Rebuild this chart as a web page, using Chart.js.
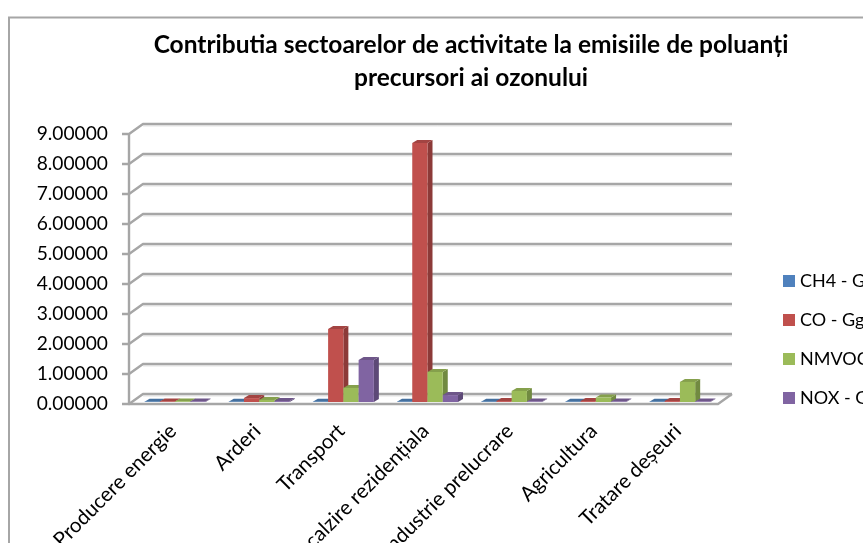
<!DOCTYPE html>
<html>
<head>
<meta charset="utf-8">
<style>
html,body{margin:0;padding:0;background:#fff;overflow:hidden}
canvas{display:block;filter:blur(0.35px)}
</style>
<script src="https://cdn.jsdelivr.net/npm/chart.js@4"></script>
</head>
<body>
<canvas id="c" width="863" height="543"></canvas>
<script>
const categories = ["Producere energie","Arderi","Transport","Încalzire rezidențiala","Industrie prelucrare","Agricultura","Tratare deșeuri"];
const seriesNames = ["CH4 - Gg","CO - Gg","NMVOC - Gg","NOX - Gg"];
const ch4 = [0.01,0.01,0.01,0.01,0.01,0.01,0.01];
const co = [0.02,0.13,2.43,8.63,0.03,0.03,0.03];
const nmvoc = [0.02,0.07,0.47,1.00,0.37,0.15,0.67];
const nox = [0.02,0.03,1.40,0.23,0.02,0.02,0.02];
const frontColors = ["#4F81BD","#C0504D","#9BBB59","#8064A2"];
const sideColors = ["#3A5F8C","#8C3A38","#718A41","#5D4977"];
const topColors = ["#44709F","#A34442","#85A04C","#6E5689"];
const titleLines = ["Contributia sectoarelor de activitate la emisiile de poluanți","precursori ai ozonului"];
const yTicksStep = 1;

const GRAY = "#A6A6A6";
const DEPTH = {dx: 5, dy: 3};
const WALL = {dx: 14, dy: 10};
const BAR_SHIFT = {x: 4, y: -2};

const frame3d = {
  id: "frame3d",
  afterLayout(chart) {
    const t = chart.titleBlock;
    t.left = 0; t.right = 942; t.width = 942;
    const l = chart.legend;
    l.left = 766; l.right = 1000; l.top = 251; l.bottom = 520;
  },
  beforeDraw(chart) {
    const {ctx, chartArea: a, scales: {y}} = chart;
    ctx.save();
    // outer chart frame (left and top only are inside the crop)
    ctx.strokeStyle = "#A6A6A6"; ctx.lineWidth = 2;
    ctx.beginPath(); ctx.moveTo(9, 543); ctx.lineTo(9, 17.5); ctx.lineTo(863, 17.5); ctx.stroke();
    // soft shadow under each grid line
    const ticks = y.ticks.map(t => y.getPixelForValue(t.value));
    ctx.strokeStyle = "#E4E4E4"; ctx.lineWidth = 1;
    ticks.forEach(py => {
      ctx.beginPath(); ctx.moveTo(a.left + WALL.dx, py - WALL.dy + 2); ctx.lineTo(a.right + WALL.dx, py - WALL.dy + 2); ctx.stroke();
    });
    ctx.strokeStyle = GRAY; ctx.lineWidth = 2.4; ctx.lineJoin = "round";
    ticks.forEach(py => {
      ctx.beginPath();
      ctx.moveTo(a.left - 7, py);
      ctx.lineTo(a.left, py);
      ctx.lineTo(a.left + WALL.dx, py - WALL.dy);
      ctx.lineTo(a.right + WALL.dx, py - WALL.dy);
      ctx.stroke();
    });
    // value axis and floor
    ctx.beginPath();
    ctx.moveTo(a.left, a.top);
    ctx.lineTo(a.left, a.bottom);
    ctx.lineTo(a.right, a.bottom);
    ctx.lineTo(a.right + WALL.dx, a.bottom - WALL.dy);
    ctx.stroke();
    ctx.restore();
  },
  beforeDatasetsDraw(chart) {
    const {ctx} = chart;
    ctx.save();
    ctx.translate(BAR_SHIFT.x, BAR_SHIFT.y);
    chart.data.datasets.forEach((ds, i) => {
      const meta = chart.getDatasetMeta(i);
      meta.data.forEach(el => {
        const {x, y, base, width} = el.getProps(["x","y","base","width"], true);
        const x0 = x - width / 2, x1 = x + width / 2;
        ctx.fillStyle = sideColors[i];
        ctx.beginPath();
        ctx.moveTo(x1, y); ctx.lineTo(x1 + DEPTH.dx, y - DEPTH.dy);
        ctx.lineTo(x1 + DEPTH.dx, base - DEPTH.dy); ctx.lineTo(x1, base);
        ctx.closePath(); ctx.fill();
        ctx.fillStyle = topColors[i];
        ctx.beginPath();
        ctx.moveTo(x0, y); ctx.lineTo(x1, y);
        ctx.lineTo(x1 + DEPTH.dx, y - DEPTH.dy); ctx.lineTo(x0 + DEPTH.dx, y - DEPTH.dy);
        ctx.closePath(); ctx.fill();
        el.draw(ctx);
      });
    });
    ctx.restore();
    return false;
  }
};

const series = [ch4, co, nmvoc, nox];
new Chart(document.getElementById("c"), {
  type: "bar",
  plugins: [frame3d],
  data: {
    labels: categories,
    datasets: series.map((values, i) => ({
      label: seriesNames[i],
      data: values,
      backgroundColor: frontColors[i],
      borderWidth: 0,
      categoryPercentage: 0.725,
      barPercentage: 1
    }))
  },
  options: {
    responsive: false,
    animation: false,
    events: [],
    layout: {padding: {left: 0, right: 145, top: 0, bottom: 0}},
    font: {family: "Lato"},
    plugins: {
      tooltip: {enabled: false},
      title: {
        display: true,
        text: titleLines,
        color: "#000",
        font: {family: "Lato", size: 24.5, weight: "bold", lineHeight: 1.347},
        padding: {top: 28.5, bottom: 39.5}
      },
      legend: {
        display: true,
        position: "chartArea",
        align: "start",
        labels: {
          color: "#000",
          font: {family: "Lato", size: 18},
          boxWidth: 4,
          boxHeight: 4,
          padding: 21,
          generateLabels: chart => seriesNames.map((name, i) => ({
            text: name,
            fillStyle: frontColors[i],
            strokeStyle: frontColors[i],
            lineWidth: 8,
            datasetIndex: i,
            hidden: false
          }))
        }
      }
    },
    scales: {
      x: {
        afterFit: s => { s.height = 139; },
        grid: {display: false, drawTicks: false},
        border: {display: false},
        ticks: {
          color: "#000",
          font: {family: "Lato", size: 20.5},
          minRotation: 45,
          maxRotation: 45,
          autoSkip: false,
          labelOffset: 2,
          padding: 15
        }
      },
      y: {
        min: 0,
        max: 9,
        afterFit: s => { s.width = 129; },
        grid: {display: false, drawTicks: false},
        border: {display: false},
        ticks: {
          stepSize: yTicksStep,
          color: "#000",
          font: {family: "Lato", size: 19.2},
          padding: 21,
          callback: v => Number(v).toFixed(5)
        }
      }
    }
  }
});
</script>
</body>
</html>
